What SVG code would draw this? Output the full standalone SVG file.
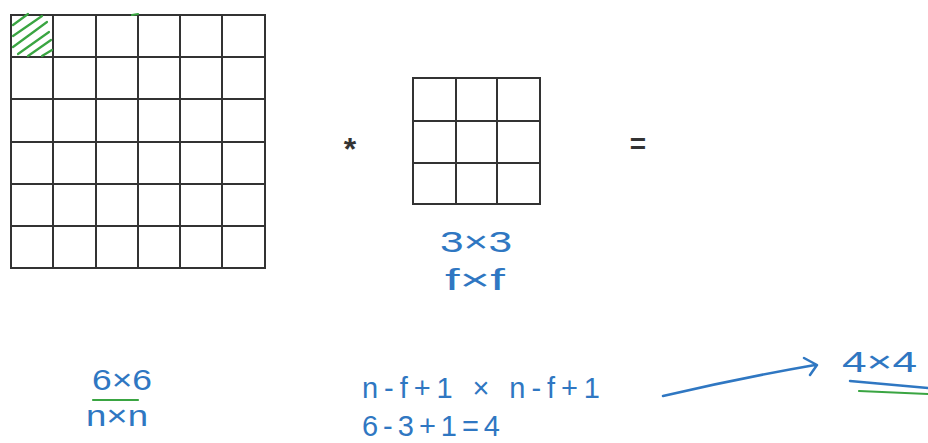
<svg xmlns="http://www.w3.org/2000/svg" width="928" height="443" viewBox="0 0 928 443">
<style>
.grid{fill:none;stroke:#333;stroke-width:2}
.ink{fill:#2f77c2;font-family:"Liberation Sans",Arial,sans-serif;font-size:29px}
.blue{fill:none;stroke:#2f77c2;stroke-width:2.5;stroke-linecap:round;stroke-linejoin:round}
.green{fill:none;stroke:#3aa542;stroke-width:2.2;stroke-linecap:round}
.sym{fill:#333;font-family:"Liberation Sans",Arial,sans-serif;font-weight:bold}
</style>
<rect width="928" height="443" fill="#fff"/>
<g id="input-6x6">
<path class="grid" d="M11 15H265V268H11Z M53 15V268 M96 15V268 M138 15V268 M180 15V268 M222 15V268 M11 57H265 M11 99H265 M11 142H265 M11 184H265 M11 226H265"/>
<path class="green" d="M13 25L28 14 M13 36L42 16 M13 47L47 22 M18 54L49 32 M28 56L51 40 M42 56L52 50"/>
<path class="green" d="M132 15L138 14"/>
</g>
<g id="op-star"><text class="sym" x="350" y="160" font-size="32" text-anchor="middle">*</text></g>
<g id="filter-3x3">
<path class="grid" d="M413 78H540V204H413Z M456 78V204 M497 78V204 M413 121H540 M413 163H540"/>
<text class="ink" x="440" y="252" textLength="72" lengthAdjust="spacingAndGlyphs">3×3</text>
<text class="ink" x="445" y="290" textLength="60" lengthAdjust="spacingAndGlyphs">f×f</text>
</g>
<g id="op-eq"><text class="sym" x="638" y="153" font-size="28" text-anchor="middle">=</text></g>
<g id="label-6x6">
<text class="ink" x="92" y="390" textLength="60" lengthAdjust="spacingAndGlyphs">6×6</text>
<path class="green" d="M93 400H138"/>
<text class="ink" x="86" y="426" textLength="62" lengthAdjust="spacingAndGlyphs">n×n</text>
</g>
<g id="formula">
<text class="ink" x="362" y="398" textLength="238" lengthAdjust="spacing">n-f+1  × n-f+1</text>
<text class="ink" x="362" y="436" font-size="24" textLength="138" lengthAdjust="spacing">6-3+1=4</text>
</g>
<g id="connectors">
<path class="blue" d="M663 396Q740 378 815 365 M804 358L817 365L810 375"/>
</g>
<g id="result-4x4">
<text class="ink" x="842" y="372" textLength="75" lengthAdjust="spacingAndGlyphs">4×4</text>
<path class="blue" d="M850 381L928 388"/>
<path class="green" d="M859 391L928 394"/>
</g>
</svg>
